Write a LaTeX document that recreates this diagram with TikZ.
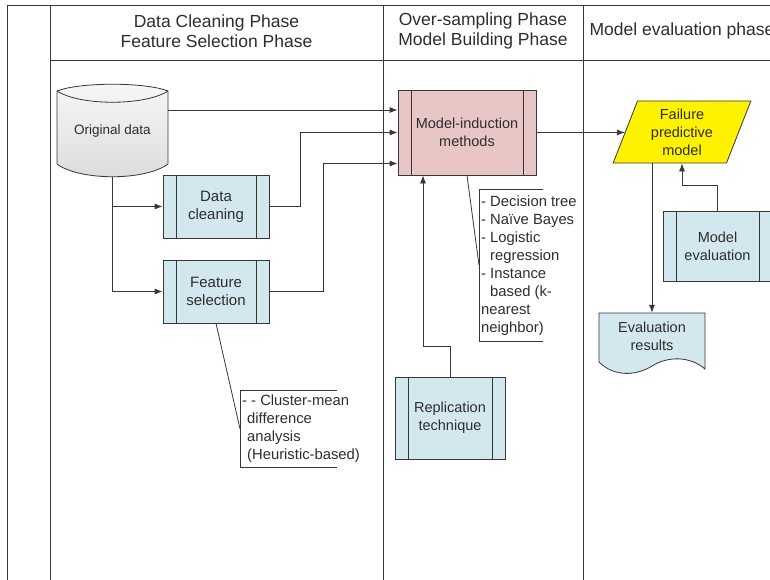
\documentclass[tikz,border=0pt]{standalone}
\usepackage{fontspec}
\setmainfont{Liberation Sans}
\usetikzlibrary{arrows.meta,shapes.geometric}

\definecolor{procblue}{RGB}{210,232,238}
\definecolor{procpink}{RGB}{232,198,198}
\definecolor{linegray}{RGB}{55,55,55}
\definecolor{textgray}{RGB}{45,45,45}

\begin{document}
\begin{tikzpicture}[x=1pt,y=-1pt,
    line/.style={draw=linegray, line width=0.8pt},
    arr/.style={line, -{Latex[length=8pt,width=6pt]}},
    phase/.style={align=center, text=textgray, font=\fontsize{17.5}{20}\selectfont},
    txt/.style={align=center, text=textgray, font=\fontsize{14.5}{18}\selectfont},
    procbox/.style={txt, draw=linegray, line width=0.8pt, fill=procblue, inner sep=0pt,
        path picture={\draw[linegray, line width=0.8pt]
            ([xshift=13pt]path picture bounding box.north west) -- ([xshift=13pt]path picture bounding box.south west)
            ([xshift=-13pt]path picture bounding box.north east) -- ([xshift=-13pt]path picture bounding box.south east);}},
    note/.style={align=left, text=textgray, font=\fontsize{14.8}{18}\selectfont, inner sep=2pt, anchor=north west}]

    \useasboundingbox (0,0) rectangle (770,580);

    % lanes
    \def\laneL{7}
    \def\laneA{50}
    \def\laneB{383}
    \def\laneC{583}

    \draw[line] (\laneL,5) -- (780,5);
    \draw[line] (\laneA,60) -- (780,60);
    \foreach \x in {\laneL,\laneA,\laneB,\laneC}
        \draw[line] (\x,5) -- (\x,590);

    \node (hdA) [phase] at (216.5,31) {Data Cleaning Phase\\Feature Selection Phase};
    \node (hdB) [phase] at (483,31) {Over-sampling Phase\\Model Building Phase};
    \node (hdC) [phase, anchor=west] at (586,31) {Model evaluation phase};

    % original data
    \draw[line, top color=black!3, bottom color=black!14] (57,91) .. controls (80,82) and (145,82) .. (168,91) -- (168,164)
        .. controls (145,181) and (80,181) .. (57,164) -- cycle;
    \draw[line] (57,91) .. controls (80,106) and (145,106) .. (168,91);
    \node (orig) [txt, font=\fontsize{13.5}{18}\selectfont, minimum width=111pt, minimum height=92pt] at (112.5,131) {Original data};

    % first phase
    \node (dcl) [procbox, font=\fontsize{15}{18}\selectfont, minimum width=106pt, minimum height=63pt] at (216,206.5) {Data\\cleaning};
    \node (fsel) [procbox, font=\fontsize{15}{18}\selectfont, minimum width=106pt, minimum height=63pt] at (216,291.5) {Feature\\selection};

    \node (cmnote) [note, minimum height=77pt] at (240,390) {- - Cluster-mean\\\hspace*{5pt}difference\\\hspace*{5pt}analysis\\\hspace*{5pt}(Heuristic-based)};
    \draw[line] ([xshift=97pt]cmnote.north west) -- (cmnote.north west) -- (cmnote.south west) -- ([xshift=97pt]cmnote.south west);
    \draw[line] (fsel.south) -- (cmnote.west);

    % second phase
    \node (mim) [procbox, fill=procpink, minimum width=138pt, minimum height=85pt] at (467,132.5) {Model-induction\\methods};
    \node (rep) [procbox, minimum width=110pt, minimum height=82pt] at (450,418) {Replication\\technique};

    \node (mimnote) [note, minimum height=152pt] at (479,189) {- Decision tree\\- Na\"ive Bayes\\- Logistic\\\hphantom{- }regression\\- Instance\\\hphantom{- }based (k-\\nearest\\neighbor)};
    \draw[line] ([xshift=64pt]mimnote.north west) -- (mimnote.north west) -- (mimnote.south west) -- ([xshift=64pt]mimnote.south west);
    \draw[line] (mim.south) -- (mimnote.west);

    % third phase
    \node (fpm) [txt, trapezium, trapezium left angle=70, trapezium right angle=110, trapezium stretches=true,
        minimum width=138pt, minimum height=62pt, inner sep=0pt, draw=linegray, line width=0.8pt, fill=yellow] at (682,132) {Failure\\predictive\\model};
    \node (mev) [procbox, minimum width=109pt, minimum height=70pt] at (717.5,246) {Model\\evaluation};

    \draw[line, fill=procblue] (599,313) -- (705,313) -- (705,369) .. controls (690,356) and (668,356) .. (652,366)
        .. controls (636,376) and (614,377) .. (599,362) -- cycle;
    \node (evr) [txt, minimum width=106pt, minimum height=46pt] at (652,336) {Evaluation\\results};

    % connectors
    \draw[arr] ([yshift=21pt]orig.east) -- ([yshift=21pt]orig.east -| mim.west);
    \draw[arr] (orig.south) |- (dcl.west);
    \draw[arr] (orig.south) |- (fsel.west);
    \draw[arr] (dcl.east) -- ++(31,0) |- (mim.west);
    \draw[arr] (fsel.east) -- ++(54,0) |- ([yshift=-31pt]mim.west);
    \draw[arr] (rep.north) -- ++(0,-30) -| ([xshift=-44pt]mim.south);
    \draw[arr] (mim.east) -- (mim.east -| fpm.west);
    \draw[arr] (mev.north) -- ++(0,-25) -| (fpm.south);
    \draw[arr] (fpm.south -| evr.north) -- (evr.north);

\end{tikzpicture}
\end{document}
